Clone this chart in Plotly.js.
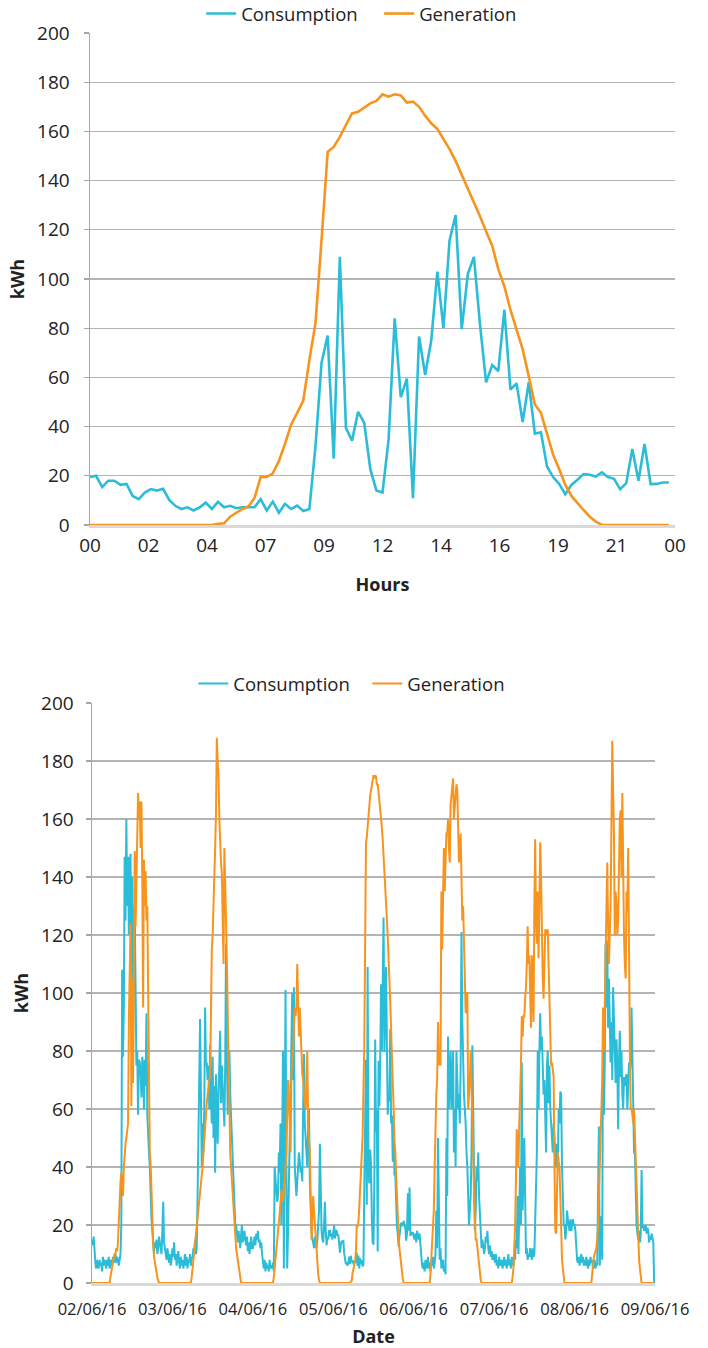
<!DOCTYPE html>
<html><head><meta charset="utf-8">
<script src="https://cdn.plot.ly/plotly-3.0.1.min.js"></script>
<style>
html,body{margin:0;padding:0;background:#fff;width:708px;height:1348px;overflow:hidden}
#top{position:absolute;left:0;top:0;width:708px;height:620px}
#week{position:absolute;left:0;top:640px;width:708px;height:708px}
</style></head><body>
<div id="top"></div><div id="week"></div>
<script>
// ---------- Chart 1: one day (05/06/16), 15-minute readings ----------
const hourTickLabels = ['00','02','04','07','09','12','14','16','19','21','00'];
const dayConsumption = [
19.5,20,15.4,18, 18,16.3,16.7,11.8, 10.5,13.2,14.6,14, 14.7,10.2,7.8,6.5,
7.2,5.9,7.2,9.1, 6.5,9.4,7.2,7.8, 6.8,7.2,7.2,7.2, 10.5,5.9,9.5,5,
8.6,6.5,7.9,5.7, 6.5,32,66,77, 27,109,39.5,34.3, 46,41.5,22.7,14,
13.2,34.7,84,52, 59.5,10.9,76.6,61, 75,103,80,115.6, 126,79.6,102,109,
81.6,58,65,62.6, 87.5,55,57.6,41.8, 58,37.1,37.7,23.8, 19.5,16.7,12.5,16.3,
18.4,20.7,20.4,19.7, 21.4,19.5,18.8,14.6, 17,30.9,18,32.9, 16.6,16.7,17.3,17.3];
const dayGeneration = [
0,0,0,0, 0,0,0,0, 0,0,0,0, 0,0,0,0, 0,0,0,0,
0,0.5,0.7,3.4, 5,6.5,7.5,11, 19.5,19.5,21,26,
33,40.8,45.6,50.6, 67,82,116,151.7, 153.7,157.8,162.6,167.3, 168,169.7,171.4,172.4,
175.1,174.1,175.1,174.6, 171.7,172.1,170,166.4, 163.3,161,157,152.8, 148,142.5,137.2,131,
125.5,119.4,113.5,104, 97,87.4,79.6,71.4, 60.5,49,45.6,37.4, 28.6,22.7,16.3,11.8,
8.8,6.1,3.4,1.4, 0,0,0,0, 0,0,0,0, 0,0,0,0];

// ---------- Chart 2: one week, 15-minute readings per day ----------
const weekDates = ['2016-06-02','2016-06-03','2016-06-04','2016-06-05','2016-06-06','2016-06-07','2016-06-08'];
const dateTickLabels = ['02/06/16','03/06/16','04/06/16','05/06/16','06/06/16','07/06/16','08/06/16','09/06/16'];

const cons0206 = [15,13,16,9, 7,5,8,6, 5,8,6,7, 4,9,6,8, 7,5,8,6, 9,5,7,8, 6,9,7,8, 10,7,9,8,
 6,9,10,20, 108,78,95,147, 125,160,130,147, 120,145,148,100, 140,78,125,130, 110,75,80,58,
 77,76,73,64, 78,74,60,77, 68,93,58,48, 45,40,27,22, 18,12,10,14, 12,15,10,12,
 16,14,12,10, 18,28,14,12, 10,8,12,9, 7,10,6,8];
const gen0206 = [0,0,0,0, 0,0,0,0, 0,0,0,0, 0,0,0,0, 0,0,0,0, 0,0,2,4, 5,7,9,10, 10,12,11,14,
 25,28,35,38, 35,30,40,45, 48,50,53,55, 90,110,124,61, 105,69,120,149, 123,140,150,169,
 160,166,150,166, 140,95,146,130, 142,125,130,102, 65,45,41,30, 19,14,9,7, 5,4,2,1,
 0,0,0,0, 0,0,0,0, 0,0,0,0, 0,0,0,0];

const cons0306 = [12,9,14,8, 10,6,8,11, 7,5,9,6, 8,5,7,10, 6,9,5,8, 7,10,6,9, 8,12,10,15, 10,12,30,45,
 70,91,60,40, 55,45,60,95, 75,76,70,75, 60,82,64,55, 78,50,68,38, 72,60,48,65,
 80,87,62,75, 68,60,54,75, 117,80,58,72, 80,65,58,50, 47,35,28,20, 20,16,14,18,
 15,12,17,20, 14,16,18,15, 13,16,11,14, 10,13,16,12];
const gen0306 = [0,0,0,0, 0,0,0,0, 0,0,0,0, 0,0,0,0, 0,0,0,0, 0,0,0,2, 5,8,10,12, 15,18,22,25,
 28,31,34,37, 40,45,50,55, 58,62,65,68, 70,71,95,115, 120,128,135,150, 162,188,180,175,
 160,150,145,141, 130,110,150,140, 125,110,92,70, 48,45,40,35, 30,25,20,15, 12,10,8,5,
 3,1,0,0, 0,0,0,0, 0,0,0,0, 0,0,0,0];

const cons0406 = [12,14,16,13, 17,15,18,14, 15,12,14,10, 6,5,8,4, 7,5,6,4, 8,5,6,5, 7,4,40,35, 30,28,30,45,
 38,55,20,45, 80,5,60,101, 40,5,18,30, 50,65,85,100, 70,102,40,35, 30,35,40,45,
 42,38,40,35, 60,79,55,50, 45,40,55,60, 35,25,18,15, 14,12,16,13, 12,15,20,25,
 48,30,18,15, 14,20,28,18, 13,16,15,18, 18,16,17,15];
const gen0406 = [0,0,0,0, 0,0,0,0, 0,0,0,0, 0,0,0,0, 0,0,0,0, 0,0,0,0, 0,2,5,7, 10,13,17,20,
 24,28,32,30, 28,32,35,40, 45,55,70,65, 50,45,72,76, 80,88,95,92, 95,110,95,85,
 95,85,75,72, 70,65,62,60, 70,80,55,50, 45,30,15,22, 30,25,20,15, 10,6,3,1,
 0,0,0,0, 0,0,0,0, 0,0,0,0, 0,0,0,0];

const cons0506 = dayConsumption;
const gen0506 = dayGeneration;

const cons0606 = [16,15,17,14, 18,16,15,17, 13,8,6,5, 7,4,8,5, 6,9,5,7, 4,8,6,9, 5,7,10,25, 12,50,15,8,
 12,5,7,8, 4,5,3,50, 30,85,60,75, 80,60,70,80, 45,60,40,80, 70,60,65,55,
 75,121,90,75, 65,60,55,45, 40,30,20,25, 30,45,82,60, 30,18,25,40, 35,45,30,22,
 14,12,15,13, 10,12,16,14, 18,12,10,13, 9,11,8,10];
const gen0606 = [0,0,0,0, 0,0,0,0, 0,0,0,0, 0,0,0,0, 0,0,0,0, 3,8,12,20, 25,40,55,65, 70,90,75,80,
 75,135,115,140, 150,135,150,155, 155,160,150,145, 165,168,170,174, 160,165,170,172, 170,150,145,148,
 155,140,125,130, 115,100,93,100, 100,60,65,70, 80,70,60,45, 30,20,15,15, 12,8,5,3,
 1,0,0,0, 0,0,0,0, 0,0,0,0, 0,0,0,0];

const cons0706 = [9,7,10,6, 8,5,9,7, 6,8,5,7, 9,6,8,5, 7,10,6,8, 5,9,7,6, 10,8,15,12, 30,10,25,40,
 20,76,25,35, 50,30,10,12, 8,10,9,12, 10,8,12,9, 10,20,30,45, 80,60,80,93,
 80,85,75,65, 70,55,45,75, 80,62,75,60, 55,50,45,55, 50,45,40,48, 41,60,55,66,
 65,40,30,20, 20,15,18,25, 22,20,18,22, 18,20,22,20];
const gen0706 = [0,0,0,0, 0,0,0,0, 0,0,0,0, 0,0,0,0, 0,0,0,0, 0,0,2,5, 12,19,35,53, 45,40,55,63,
 75,92,85,92, 92,98,102,110, 123,110,113,100, 88,113,100,90, 130,153,125,117, 135,112,130,152,
 140,117,105,98, 110,122,120,121, 122,110,98,85, 75,76,74,71, 40,18,17,30, 45,42,40,30,
 12,8,5,2, 0,0,0,0, 0,0,0,0, 0,0,0,0];

const cons0806 = [20,18,10,8, 7,9,6,8, 10,7,9,6, 8,6,9,7, 5,8,6,9, 7,8,5,6, 8,5,7,6, 30,54,6,12,
 23,8,94,58, 75,117,95,118, 88,105,85,76, 90,70,102,84, 80,69,84,75, 53,76,87,71,
 80,65,60,71, 68,71,72,60, 70,76,73,76, 95,80,60,45, 45,27,20,17, 15,18,14,17,
 39,19,20,18, 19,20,17,19, 18,14,16,15, 17,15,14,0];
const gen0806 = [0,0,0,0, 0,0,0,0, 0,0,0,0, 0,0,0,0, 0,0,0,0, 0,3,8,9, 10,11,12,15, 20,30,40,45,
 60,70,95,80, 95,115,120,145, 125,110,120,130, 158,187,170,155, 120,135,130,120, 125,150,160,163,
 140,169,130,120, 110,105,135,128, 150,100,80,60, 60,58,55,60, 50,45,30,20, 12,8,5,2,
 0,0,0,0, 0,0,0,0, 0,0,0,0, 0,0,0,0];

const weekConsumption = [cons0206, cons0306, cons0406, cons0506, cons0606, cons0706, cons0806];
const weekGeneration  = [gen0206, gen0306, gen0406, gen0506, gen0606, gen0706, gen0806];

// ---------- styles ----------
const CYAN = '#2BBCD8', ORANGE = '#F7941D';
const FONT = '"Open Sans", "Noto Sans", sans-serif';
const TXT = '#222222';

// x for chart 1: hour of day for each quarter-hour reading
const dayHours = dayConsumption.map((_, i) => i / 4);
const hourTickVals = hourTickLabels.map((_, i) => i * 2.4);

function pad(n){ return (n < 10 ? '0' : '') + n; }
const weekX = [], weekC = [], weekG = [];
weekDates.forEach((d, di) => {
  weekConsumption[di].forEach((v, q) => {
    weekX.push(d + ' ' + pad(Math.floor(q / 4)) + ':' + pad((q % 4) * 15));
    weekC.push(v);
    weekG.push(weekGeneration[di][q]);
  });
});
const dateTickVals = ['2016-06-02','2016-06-03','2016-06-04','2016-06-05','2016-06-06','2016-06-07','2016-06-08','2016-06-09'];

function yAxis(){
  return {
    range: [0, 200], dtick: 20, tick0: 0,
    showgrid: true, gridcolor: '#b4b4b4', gridwidth: 1.3,
    zeroline: false,
    showline: true, linecolor: '#a6a6a6', linewidth: 1.5,
    ticks: 'outside', ticklen: 5, tickcolor: '#a6a6a6', tickwidth: 1.3,
    tickfont: {family: FONT, size: 19, color: TXT},
    ticklabelstandoff: 10,
    title: {text: '<b>kWh</b>', font: {family: FONT, size: 18, color: TXT}, standoff: 8},
    fixedrange: true
  };
}

const topData = [
  {x: dayHours, y: dayConsumption, type: 'scatter', mode: 'lines', name: 'Consumption',
   line: {color: CYAN, width: 2.6}},
  {x: dayHours, y: dayGeneration, type: 'scatter', mode: 'lines', name: 'Generation',
   line: {color: ORANGE, width: 2.6}}
];
const topLayout = {
  width: 708, height: 620,
  margin: {l: 90, r: 33, t: 33, b: 95, pad: 0, autoexpand: false},
  paper_bgcolor: '#fff', plot_bgcolor: '#fff',
  font: {family: FONT, color: TXT},
  showlegend: true,
  legend: {orientation: 'h', x: 0.19, xanchor: 'left', y: 1.0, yanchor: 'bottom',
           itemwidth: 30, entrywidth: 133, entrywidthmode: 'pixels',
           font: {family: FONT, size: 18.5, color: TXT}, bgcolor: 'rgba(0,0,0,0)', traceorder: 'normal'},
  xaxis: {
    range: [0, 24], tickmode: 'array', tickvals: hourTickVals, ticktext: hourTickLabels,
    showgrid: false, zeroline: false,
    showline: true, linecolor: '#d9d9d9', linewidth: 3,
    ticks: '', tickfont: {family: FONT, size: 19, color: TXT}, ticklabelstandoff: 1,
    title: {text: '<b>Hours</b>', font: {family: FONT, size: 18, color: TXT}, standoff: 22},
    fixedrange: true
  },
  yaxis: yAxis()
};

const weekData = [
  {x: weekX, y: weekC, type: 'scatter', mode: 'lines', name: 'Consumption',
   line: {color: CYAN, width: 2}},
  {x: weekX, y: weekG, type: 'scatter', mode: 'lines', name: 'Generation',
   line: {color: ORANGE, width: 2}}
];
const weekLayout = {
  width: 708, height: 708,
  margin: {l: 92, r: 53, t: 63, b: 65, pad: 0, autoexpand: false},
  paper_bgcolor: '#fff', plot_bgcolor: '#fff',
  font: {family: FONT, color: TXT},
  showlegend: true,
  legend: {orientation: 'h', x: 0.18, xanchor: 'left', y: 1.0, yanchor: 'bottom',
           itemwidth: 30, entrywidth: 129, entrywidthmode: 'pixels',
           font: {family: FONT, size: 18.5, color: TXT}, bgcolor: 'rgba(0,0,0,0)', traceorder: 'normal'},
  xaxis: {
    type: 'date', range: ['2016-06-02 00:00', '2016-06-09 00:00'],
    tickmode: 'array', tickvals: dateTickVals, ticktext: dateTickLabels,
    showgrid: false, zeroline: false,
    showline: true, linecolor: '#d9d9d9', linewidth: 3,
    ticks: '', tickfont: {family: FONT, size: 16.5, color: TXT}, ticklabelstandoff: 9,
    title: {text: '<b>Date</b>', font: {family: FONT, size: 18, color: TXT}, standoff: 18},
    fixedrange: true
  },
  yaxis: Object.assign(yAxis(), {ticklabelstandoff: 8})
};

const cfg = {staticPlot: true, displayModeBar: false};
Plotly.newPlot('top', topData, topLayout, cfg);
Plotly.newPlot('week', weekData, weekLayout, cfg);
</script>
</body></html>
